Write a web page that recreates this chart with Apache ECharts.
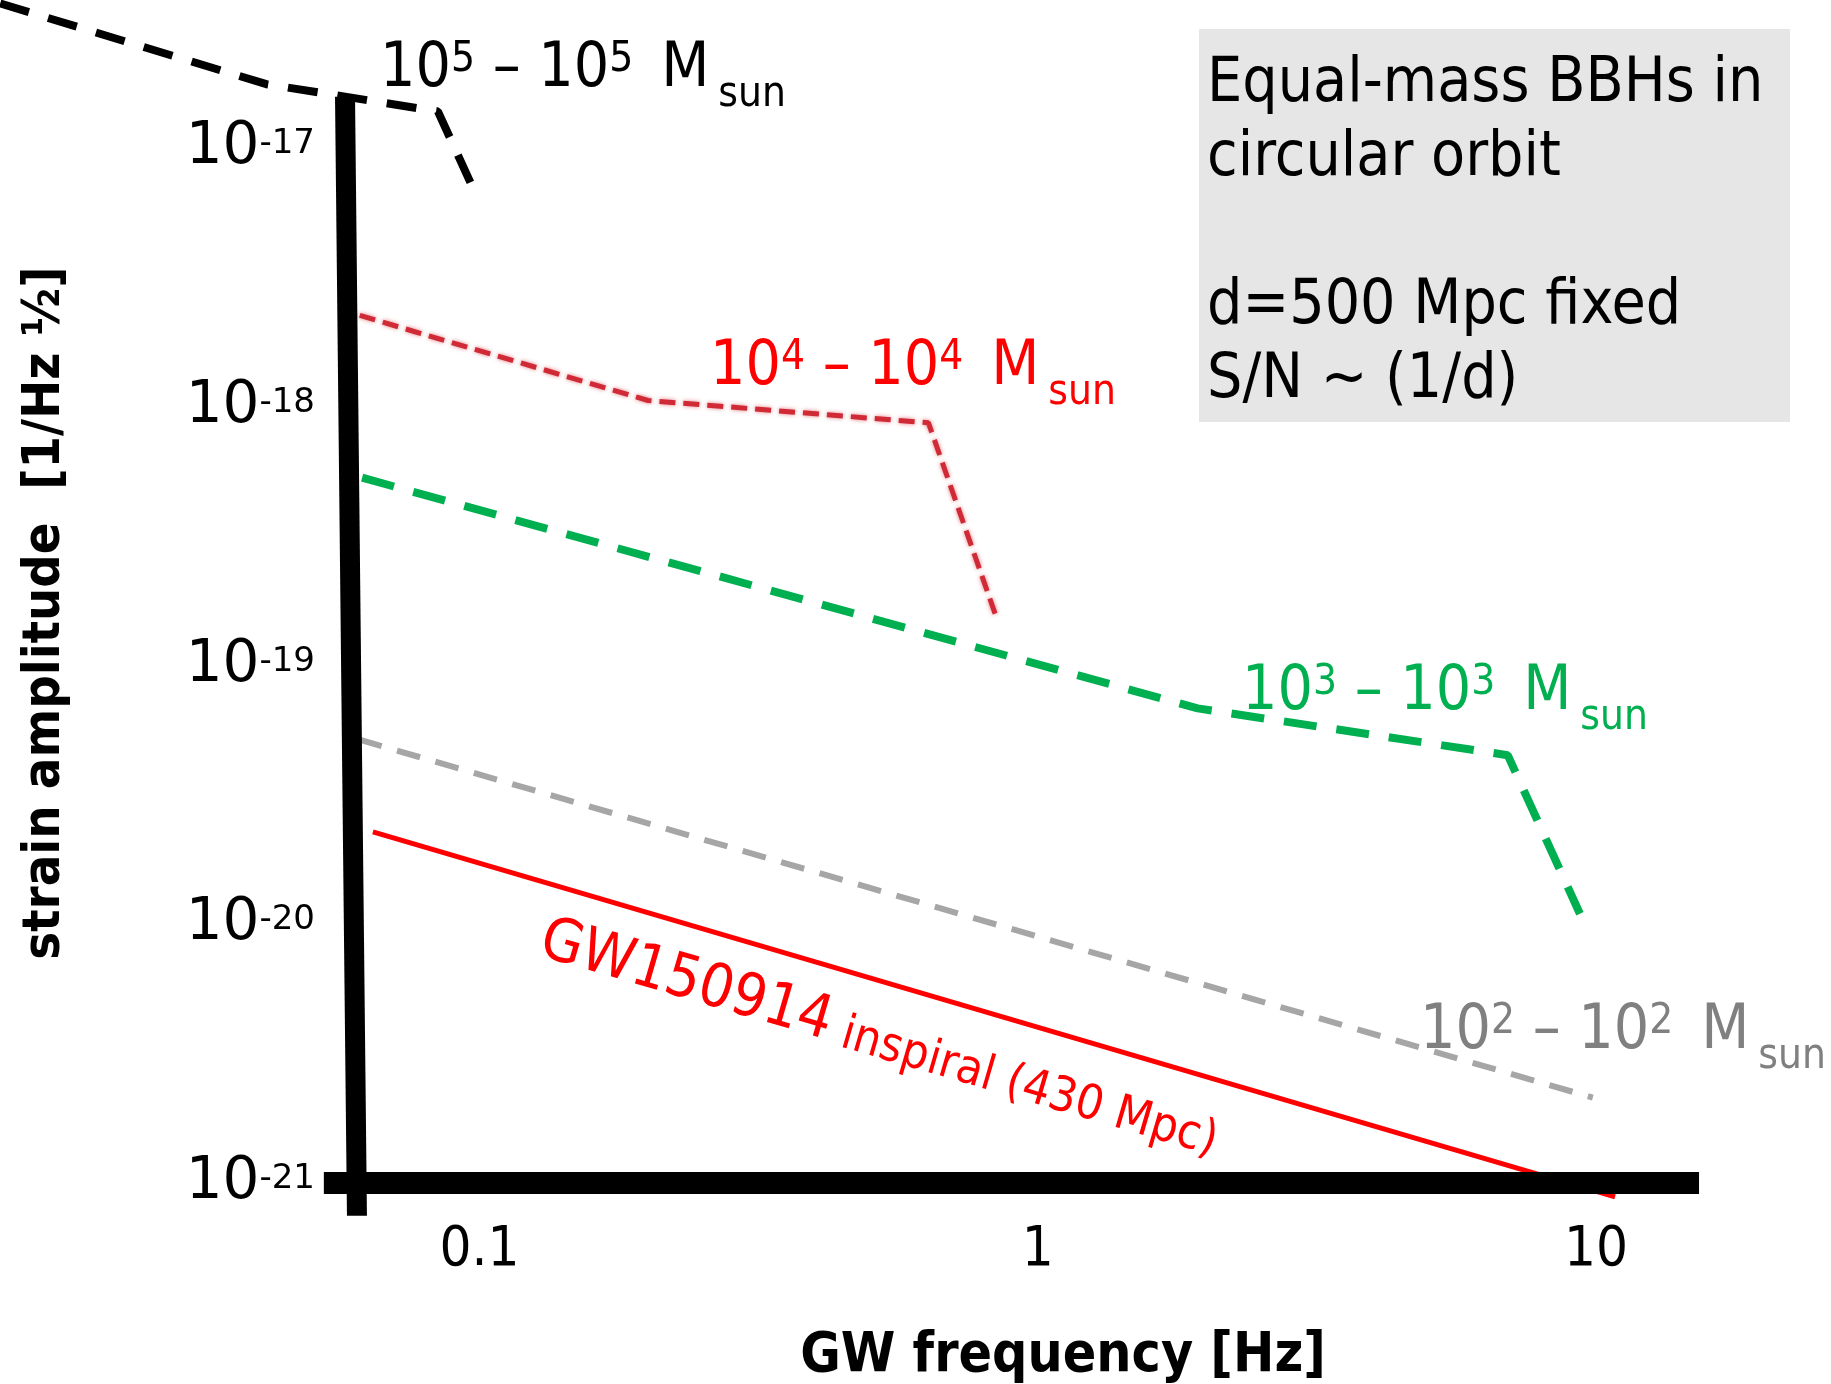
<!DOCTYPE html>
<html>
<head>
<meta charset="utf-8">
<script src="https://cdn.jsdelivr.net/npm/echarts@6/dist/echarts.min.js"></script>
<style>
html,body{margin:0;padding:0;background:#fff;}
#chart{width:1831px;height:1384px;}
</style>
</head>
<body>
<div id="chart"></div>
<script>
// ---------------- data (frequency [Hz], strain amplitude [1/Hz^1/2]) ----------------
const freq1e5   = [0.01384, 0.0415, 0.0842, 0.0988];
const strain1e5 = [3.63e-17, 1.77e-17, 1.39e-17, 6.53e-18];

const freq1e4   = [0.0610, 0.2004, 0.637, 0.842];
const strain1e4 = [2.26e-18, 1.06e-18, 8.69e-19, 1.55e-19];

const freq1e3   = [0.0616, 1.934, 6.95, 9.36];
const strain1e3 = [5.33e-19, 6.84e-20, 4.51e-20, 1.10e-20];

const freq1e2   = [0.0607, 9.87];
const strain1e2 = [5.19e-20, 2.14e-21];

const freqGW    = [0.0644, 10.82];
const strainGW  = [2.28e-20, 8.85e-22];

// hand-drawn axis bars
const yBarFreq   = [0.0574, 0.0603];
const yBarStrain = [1.585e-17, 7.48e-22];
const xBarFreq   = [0.0526, 15.3];
const xBarStrain = [1e-21, 1e-21];

// ticks
const xTickValues = [0.1, 1, 10];
const xTickLabels = ['0.1', '1', '10'];
const yTickExponents = [-17, -18, -19, -20, -21];

// axis extents (log10)
const xLogRange = [-1.8592, 1.4211];
const yLogRange = [-21.7765, -16.4266];

// texts
const massExps = ['5', '4', '3', '2'];
const boxText = 'Equal-mass BBHs in\ncircular orbit\n\nd=500 Mpc fixed\nS/N ~ (1/d)';
const xTitle = 'GW frequency [Hz]';
const yTitle = 'strain amplitude  [1/Hz ½]';

// ---------------- chart ----------------
const COND = "'DejaVu Sans Condensed', 'Liberation Sans Narrow', 'DejaVu Sans', sans-serif";
const WIDE = "'DejaVu Sans', Verdana, sans-serif";

const pairs = (xs, ys) => xs.map((x, i) => [x, ys[i]]);

function massLabel(x, y, exp, color) {
  return {
    type: 'text', x: x, y: y, z: 100,
    style: {
      text: '{b|10}{s|' + exp + '}{b| – 10}{s|' + exp + '}{b|\u2002M}{u|sun}',
      align: 'left', verticalAlign: 'top',
      rich: {
        b: { fontSize: 62, lineHeight: 80, verticalAlign: 'middle', fontFamily: COND, fill: color },
        s: { fontSize: 42, lineHeight: 40, verticalAlign: 'top', padding: [9, 0, 0, 0], fontFamily: COND, fill: color },
        u: { fontSize: 42, lineHeight: 40, verticalAlign: 'top', padding: [44, 0, 0, 9], fontFamily: COND, fill: color }
      }
    }
  };
}

const theta = 16.3 * Math.PI / 180;

const chart = echarts.init(document.getElementById('chart'), null, { renderer: 'canvas' });

const option = {
  animation: false,
  backgroundColor: '#ffffff',
  grid: { left: 0, right: 0, top: 0, bottom: 0, containLabel: false, outerBoundsMode: 'none' },
  xAxis: {
    type: 'log', logBase: 10,
    min: Math.pow(10, xLogRange[0]), max: Math.pow(10, xLogRange[1]),
    position: 'bottom', offset: -201,
    axisLine: { show: false }, axisTick: { show: false }, splitLine: { show: false },
    axisLabel: {
      margin: 39, fontSize: 56, lineHeight: 56, fontFamily: COND, color: '#000',
      formatter: function (v) {
        const i = xTickValues.findIndex(t => Math.abs(Math.log10(v) - Math.log10(t)) < 1e-6);
        return i >= 0 ? xTickLabels[i] : '';
      }
    }
  },
  yAxis: {
    type: 'log', logBase: 10,
    min: Math.pow(10, yLogRange[0]), max: Math.pow(10, yLogRange[1]),
    position: 'left', offset: -350,
    axisLine: { show: false }, axisTick: { show: false }, splitLine: { show: false },
    axisLabel: {
      margin: 35, color: '#000',
      formatter: function (v) {
        const e = Math.log10(v);
        const r = Math.round(e);
        if (Math.abs(e - r) < 1e-6 && yTickExponents.indexOf(r) >= 0) {
          return '{b|10}{s|' + r + '}';
        }
        return '';
      },
      rich: {
        b: { fontSize: 58, lineHeight: 58, verticalAlign: 'bottom', fontFamily: WIDE, color: '#000' },
        s: { fontSize: 34, lineHeight: 30, verticalAlign: 'top', padding: [8, 0, 0, 0], fontFamily: WIDE, color: '#000' }
      }
    }
  },
  series: [
    { name: '1e2', type: 'line', data: pairs(freq1e2, strain1e2), symbol: 'none', clip: false, z: 2,
      lineStyle: { color: '#a6a6a6', width: 6, type: [24, 16] } },
    { name: 'GW150914', type: 'line', data: pairs(freqGW, strainGW), symbol: 'none', clip: false, z: 2,
      lineStyle: { color: '#ff0000', width: 5, type: 'solid' } },
    { name: '1e3', type: 'line', data: pairs(freq1e3, strain1e3), symbol: 'none', clip: false, z: 2,
      lineStyle: { color: '#00b050', width: 8, type: [33, 20] } },
    { name: '1e4', type: 'line', data: pairs(freq1e4, strain1e4), symbol: 'none', clip: false, z: 2,
      lineStyle: { color: '#cf2a36', width: 5, type: [16, 8], shadowBlur: 4, shadowColor: 'rgba(210,40,50,0.6)' } },
    { name: 'yBar', type: 'line', data: pairs(yBarFreq, yBarStrain), symbol: 'none', clip: false, z: 4,
      lineStyle: { color: '#000', width: 20, cap: 'butt' } },
    { name: 'xBar', type: 'line', data: pairs(xBarFreq, xBarStrain), symbol: 'none', clip: false, z: 4,
      lineStyle: { color: '#000', width: 22, cap: 'butt' } },
    { name: '1e5', type: 'line', data: pairs(freq1e5, strain1e5), symbol: 'none', clip: false, z: 5,
      lineStyle: { color: '#000', width: 8, type: [30, 20] } }
  ],
  graphic: {
    elements: [
      { type: 'rect', x: 1199, y: 29, z: 0, shape: { width: 591, height: 393 }, style: { fill: '#e6e6e6' } },
      { type: 'text', x: 1207, y: 48, z: 100,
        style: { text: boxText, fontSize: 62, lineHeight: 74, fontFamily: COND, fill: '#000', align: 'left', verticalAlign: 'top' } },
      massLabel(380, 30, massExps[0], '#000000'),
      massLabel(710, 328, massExps[1], '#ff0000'),
      massLabel(1242, 653, massExps[2], '#00b050'),
      massLabel(1420, 992, massExps[3], '#808080'),
      { type: 'text', x: 550, y: 911, rotation: -theta, z: 100,
        style: {
          text: '{a|GW150914}{c| inspiral (430 Mpc)}', align: 'left', verticalAlign: 'top',
          rich: {
            a: { fontSize: 60, lineHeight: 60, verticalAlign: 'bottom', fontFamily: COND, fill: '#ff0000' },
            c: { fontSize: 48, lineHeight: 53, verticalAlign: 'bottom', fontFamily: COND, fill: '#ff0000' }
          }
        } },
      { type: 'text', x: 1063, y: 1329, z: 100,
        style: { text: xTitle, fontSize: 55, lineHeight: 55, fontWeight: 'bold', fontFamily: COND, fill: '#000', align: 'center', verticalAlign: 'top' } },
      { type: 'text', x: 45, y: 613, rotation: Math.PI / 2, z: 100,
        style: { text: yTitle, fontSize: 52, lineHeight: 52, fontWeight: 'bold', fontFamily: COND, fill: '#000', align: 'center', verticalAlign: 'middle' } }
    ]
  }
};
chart.setOption(option);
</script>
</body>
</html>
